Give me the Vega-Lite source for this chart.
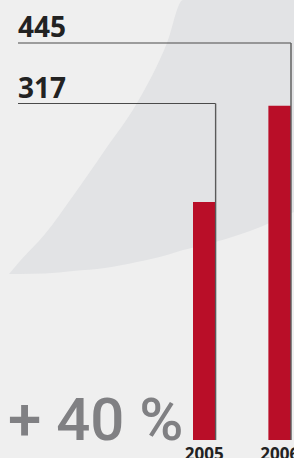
{
  "$schema": "https://vega.github.io/schema/vega-lite/v6.json",
  "width": 273,
  "height": 440,
  "autosize": {"type": "none"},
  "padding": {"left": 18, "right": 3, "top": 0, "bottom": 18},
  "background": "#efefef",
  "config": {"view": {"stroke": null}},
  "datasets": {
    "sales": [
      {"year": "2005", "value": 317},
      {"year": "2006", "value": 445}
    ],
    "backdrop": [
      {"u": 9, "top": 274, "bottom": 274},
      {"u": 20, "top": 261, "bottom": 274},
      {"u": 45, "top": 234, "bottom": 273.5},
      {"u": 73, "top": 196, "bottom": 271},
      {"u": 105, "top": 150, "bottom": 268},
      {"u": 137, "top": 103, "bottom": 262},
      {"u": 167, "top": 43, "bottom": 255},
      {"u": 183, "top": 0, "bottom": 250},
      {"u": 200, "top": 0, "bottom": 246},
      {"u": 250, "top": 0, "bottom": 231},
      {"u": 294, "top": 0, "bottom": 212}
    ]
  },
  "layer": [
    {
      "data": {"name": "backdrop"},
      "mark": {"type": "area", "color": "#e2e3e5", "interpolate": "monotone"},
      "encoding": {
        "x": {"field": "u", "type": "quantitative", "scale": {"domain": [18, 291], "zero": false, "nice": false}, "axis": null},
        "y": {"field": "top", "type": "quantitative", "scale": {"domain": [0, 440], "reverse": true, "nice": false}, "axis": null},
        "y2": {"field": "bottom"}
      }
    },
    {
      "data": {"name": "sales"},
      "layer": [
        {
          "mark": {"type": "bar", "color": "#b90e28"},
          "encoding": {
            "x": {
              "field": "year", "type": "nominal",
              "scale": {"type": "band", "range": [175, 273], "paddingInner": 0.7, "paddingOuter": 0, "round": false},
              "axis": {"title": null, "domain": false, "ticks": false, "labelAngle": 0, "labelPadding": 6,
                       "labelFont": "Open Sans", "labelFontWeight": "bold", "labelFontSize": 17, "labelColor": "#222222"}
            },
            "y": {"field": "value", "type": "quantitative", "scale": {"domain": [0, 586], "nice": false}, "axis": null}
          }
        },
        {
          "data": {"values": [{"note": "+ 40 %"}]},
          "mark": {"type": "text", "align": "left", "baseline": "alphabetic", "dx": -10,
                   "font": "Roboto", "fontWeight": 500, "fontSize": 60, "color": "#808083"},
          "encoding": {
            "x": {"value": 0},
            "y": {"datum": 0},
            "text": {"field": "note"}
          }
        }
      ]
    },
    {
      "data": {"name": "sales"},
      "encoding": {
        "x": {"field": "year", "type": "nominal", "bandPosition": 1,
              "scale": {"type": "band", "range": [175, 273], "paddingInner": 0.7, "paddingOuter": 0, "round": false}, "axis": null},
        "y": {"field": "value", "type": "quantitative", "scale": {"domain": [317, 445], "range": [103.5, 43], "zero": false, "nice": false}, "axis": null}
      },
      "layer": [
        {"mark": {"type": "rule", "color": "#4a4a4a", "strokeWidth": 1.2}, "encoding": {"x2": {"value": 0}}},
        {"mark": {"type": "rule", "color": "#5a5a5a", "strokeWidth": 1.4}, "encoding": {"y2": {"value": "height"}}},
        {
          "mark": {"type": "text", "align": "left", "baseline": "alphabetic", "dy": -6,
                   "font": "Open Sans", "fontWeight": "bold", "fontSize": 28, "color": "#222222"},
          "encoding": {"x": {"value": 0}, "text": {"field": "value"}}
        }
      ]
    }
  ],
  "resolve": {"scale": {"x": "independent", "y": "independent"}}
}
